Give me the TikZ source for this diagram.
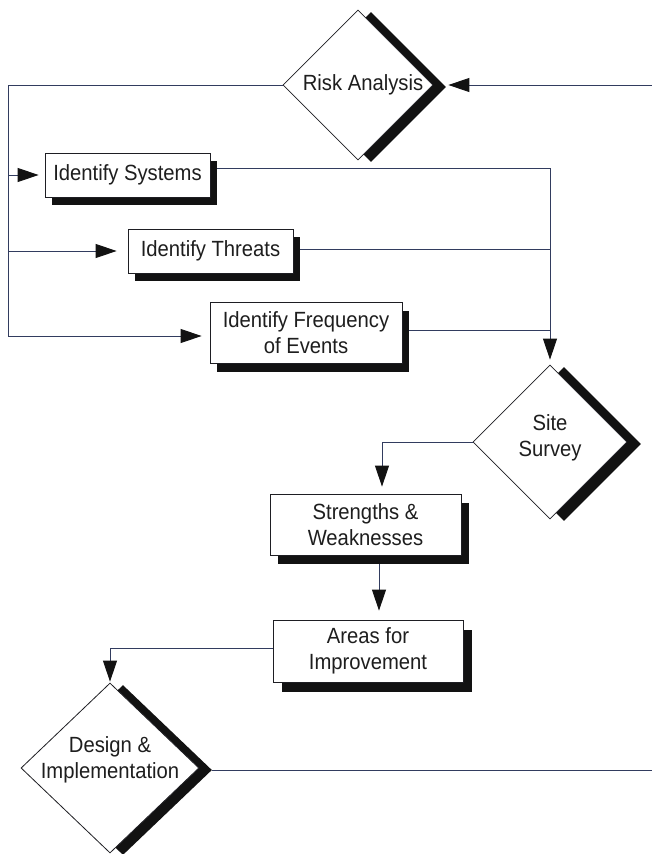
\documentclass[tikz,border=0pt]{standalone}
\usepackage{fontspec}
\setmainfont{Liberation Sans}[FakeStretch=0.92]
\usetikzlibrary{shapes.geometric,arrows.meta,shadows}
\definecolor{wire}{RGB}{50,60,95}
\definecolor{edge}{RGB}{30,30,35}
\definecolor{ink}{RGB}{30,30,30}
\definecolor{shade}{RGB}{18,18,18}
\tikzset{
  labelfont/.style={font=\fontsize{22pt}{26pt}\selectfont, text=ink},
  wireline/.style={draw=wire, line width=0.9pt},
  wirearrow/.style={wireline, -{Triangle[length=21pt,width=14pt,color=shade]}},
  shadowed/.style 2 args={drop shadow={shadow xshift=#1, shadow yshift=#2, fill=shade, opacity=1}},
  stepbox/.style={rectangle, draw=edge, line width=0.8pt, fill=white, inner sep=0pt,
    align=center, labelfont},
  decision/.style={diamond, draw=edge, line width=0.8pt, fill=white, inner sep=0pt},
  caption/.style={align=center, inner sep=0pt, labelfont}
}
\begin{document}
\begin{tikzpicture}[x=1pt,y=-1pt]
\useasboundingbox (0,0) rectangle (652,854);
\fill[white] (0,0) rectangle (652,854);

% decisions and steps
\node[decision, minimum width=150pt, minimum height=150pt, shadowed={13pt}{-2pt}] (risk) at (358,85) {};
\node[caption] (risklbl) at (363,85) {Risk Analysis};

\node[stepbox, minimum width=165pt, minimum height=44pt, shadowed={7pt}{-8pt}] (sys) at (127.5,175) {Identify Systems};
\node[stepbox, minimum width=165pt, minimum height=44pt, shadowed={7pt}{-8pt}] (thr) at (210.5,251) {Identify Threats};
\node[stepbox, minimum width=192pt, minimum height=61pt, shadowed={7pt}{-9pt}] (freq) at (306,332.5) {Identify Frequency\\of Events};

\node[decision, minimum width=154pt, minimum height=154pt, shadowed={14pt}{-2pt}] (site) at (550,442) {};
\node[caption] (sitelbl) at (550,438) {Site\\Survey};

\node[stepbox, minimum width=191pt, minimum height=61pt, shadowed={8pt}{-9pt}] (sw) at (365.5,524.5) {Strengths \&\\Weaknesses};
\node[stepbox, minimum width=190pt, minimum height=62pt, shadowed={9pt}{-10pt}] (areas) at (368,651) {Areas for\\Improvement};

\node[decision, minimum width=178pt, minimum height=170pt, shadowed={13pt}{-2pt}] (design) at (110,768) {};
\node[caption] (designlbl) at (110,760) {Design \&\\Implementation};

% feedback into risk analysis and the left-hand trunk
\coordinate (feedin) at (652,85);
\coordinate (trunktop) at (8,85);
\coordinate (trunkbot) at (8,336);
\draw[wirearrow] (feedin) -- ([xshift=15pt]risk.east);
\draw[wireline] (risk.west) -- (trunktop) -- (trunkbot);
\draw[wirearrow, shorten >=6pt] (trunktop |- sys.west) -- (sys.west);
\draw[wirearrow, shorten >=11pt] (trunktop |- thr.west) -- (thr.west);
\draw[wirearrow, shorten >=8pt] (trunkbot) -- (trunkbot -| freq.west);

% collector down to the site survey
\coordinate (sysout) at ([shift={(7pt,7pt)}]sys.east);
\coordinate (throut) at ([shift={(7pt,2pt)}]thr.east);
\coordinate (freqout) at ([shift={(7pt,2.5pt)}]freq.east);
\draw[wirearrow, shorten >=5pt] (sysout) -- (sysout -| site.north) -- (site.north);
\draw[wireline] (throut) -- (throut -| site.north);
\draw[wireline] (freqout) -- (freqout -| site.north);

% site survey to strengths and weaknesses
\coordinate (siteturn) at (382,442);
\draw[wirearrow, shorten >=7pt] (site.west) -- (siteturn) -- (siteturn |- sw.north);

% strengths and weaknesses to areas for improvement
\coordinate (swout) at (379,564);
\draw[wirearrow, shorten >=9pt] (swout) -- (swout |- areas.north);

% areas for improvement to design and implementation
\coordinate (areasout) at ([yshift=3pt]areas.west);
\draw[wirearrow, shorten >=1pt] (areasout) -- (areasout -| design.north) -- (design.north);

% exit to the right
\coordinate (designout) at ([shift={(13pt,-2pt)}]design.east);
\coordinate (exitright) at (652,770);
\draw[wireline] (designout) -- (exitright);
\end{tikzpicture}
\end{document}
